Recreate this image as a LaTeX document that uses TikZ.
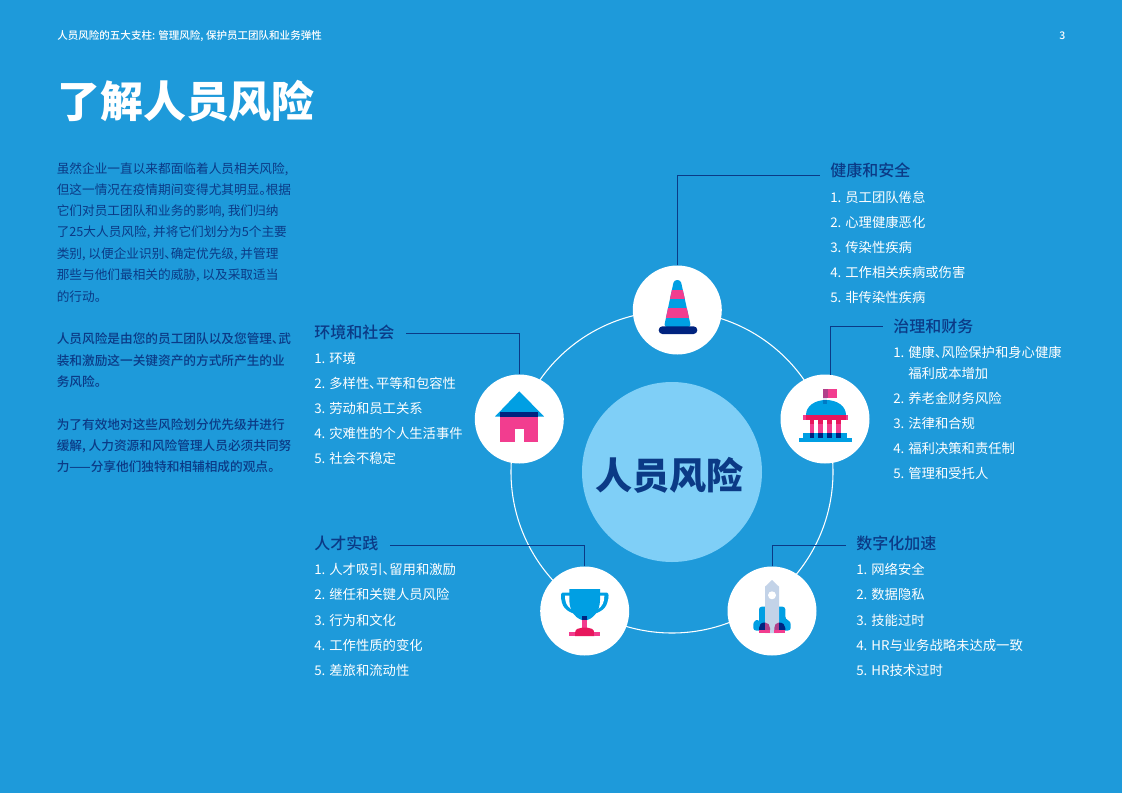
\documentclass[tikz,border=0pt]{standalone}
\usepackage{fontspec}
\setmainfont{Noto Sans CJK SC}[RawFeature=+palt]
\newfontfamily\medf{Noto Sans CJK SC}[UprightFont=* Medium,RawFeature=+palt]
\definecolor{bgblue}{HTML}{1E9ADA}
\definecolor{navy}{HTML}{0B3A86}
\definecolor{iconnavy}{HTML}{00237F}
\definecolor{lightdisc}{HTML}{7FCFF7}
\definecolor{iconblue}{HTML}{009FE3}
\definecolor{iconpink}{HTML}{F23D8F}
\definecolor{deeppink}{HTML}{E8175D}
\definecolor{purplepink}{HTML}{B0408A}
\definecolor{steel}{HTML}{C3D3E8}
\tikzset{
  x=0.75pt,y=-0.75pt,
  txt/.style={anchor=west,inner sep=0pt,text height=8.5pt,text depth=1.5pt},
  body/.style={txt,text=navy,font=\fontsize{9.5pt}{11pt}\selectfont},
  strong/.style={txt,text=navy,font=\fontsize{9.5pt}{11pt}\medf},
  item/.style={txt,text=white,text height=10pt,font=\fontsize{10pt}{12pt}\selectfont},
  head/.style={txt,text=navy,text height=12pt,text depth=2pt,font=\fontsize{12pt}{14pt}\medf},
  disc/.style={circle,fill=white,inner sep=0pt,minimum size=66.75pt},
  lead/.style={draw=navy,line width=0.7pt},
}
\begin{document}
\begin{tikzpicture}
\fill[bgblue] (0,0) rectangle (1122,793);
\useasboundingbox (0,0) rectangle (1122,793);

% header and title
\node[txt,text=white,font=\fontsize{7.9pt}{9pt}\medf] (hdr) at (57,35) {人员风险的五大支柱: 管理风险, 保护员工团队和业务弹性};
\node[txt,text=white,font=\fontsize{7.9pt}{9pt}\medf] (pg) at (1059,35) {3};
\node[txt,text=white,text height=27pt,text depth=2pt,font=\fontsize{32.2pt}{36pt}\selectfont\bfseries] (title) at (57,101) {了解人员风险};

% left column
\node[body] (b1) at (56.5,169) {虽然企业一直以来都面临着人员相关风险,};
\node[body] (b2) at (56.5,190) {但这一情况在疫情期间变得尤其明显。根据};
\node[body] (b3) at (56.5,211) {它们对员工团队和业务的影响, 我们归纳};
\node[body] (b4) at (56.5,232) {了25大人员风险, 并将它们划分为5个主要};
\node[body] (b5) at (56.5,254) {类别, 以便企业识别、确定优先级, 并管理};
\node[body] (b6) at (56.5,275) {那些与他们最相关的威胁, 以及采取适当};
\node[body] (b7) at (56.5,297) {的行动。};
\node[strong] (s1) at (56.5,339) {人员风险是由您的员工团队以及您管理、武};
\node[strong] (s2) at (56.5,361) {装和激励这一关键资产的方式所产生的业};
\node[strong] (s3) at (56.5,382) {务风险。};
\node[strong] (s4) at (56.5,425) {为了有效地对这些风险划分优先级并进行};
\node[strong] (s5) at (56.5,446) {缓解, 人力资源和风险管理人员必须共同努};
\node[strong] (s6) at (56.5,467) {力——分享他们独特和相辅相成的观点。};

% wheel
\node[circle,draw=white,line width=0.8pt,inner sep=0pt,minimum size=241.5pt] (ring) at (672,472) {};
\node[circle,fill=lightdisc,inner sep=0pt,minimum size=135pt] (hub) at (672,472) {};
\node[text=navy,inner sep=0pt,font=\fontsize{27.8pt}{32pt}\selectfont\bfseries] (hubt) at (669.5,475) {人员风险};
\node[disc] (cone) at (677.3,310) {};
\node[disc] (gov) at (825,419) {};
\node[disc] (rocket) at (772,611) {};
\node[disc] (cup) at (584.7,611) {};
\node[disc] (house) at (519.3,419) {};

% leader lines
\coordinate (l1) at (820,175);
\coordinate (l2) at (883,326);
\coordinate (l3) at (406,333);
\coordinate (l4) at (390,545);
\coordinate (l5) at (846,545);
\draw[lead] (cone.north) |- (l1);
\draw[lead] (gov.83) |- (l2);
\draw[lead] (house.north) |- (l3);
\draw[lead] (cup.north) |- (l4);
\draw[lead] (rocket.north) |- (l5);

% cone icon
\begin{scope}
\clip[rounded corners=2.2pt] (674,280) -- (680.6,280) -- (691,327) -- (664,327) -- cycle;
\fill[iconblue] (660,278) rectangle (695,328);
\fill[iconpink] (660,290) rectangle (695,299.3);
\fill[iconpink] (660,307.7) rectangle (695,318.3);
\end{scope}
\fill[iconnavy,rounded corners=2.8pt] (658.7,326.3) rectangle (697.3,334);

% government icon
\fill[iconblue] (806,415) .. controls (806,406) and (815,400) .. (826,400) .. controls (837,400) and (846,406) .. (846,415) -- cycle;
\fill[iconpink] (823.3,389) rectangle (837,398);
\fill[purplepink] (823.3,389) rectangle (828,398);
\fill[steel,opacity=.55] (823.3,398) rectangle (827.3,400);
\fill[iconblue!70!iconnavy] (823.3,400) rectangle (827.3,404);
\fill[iconpink] (803,415) rectangle (848,420);
\fill[deeppink] (806,415) rectangle (846,420);
\fill[iconpink] (809.7,420) rectangle (814.3,433);
\fill[iconpink] (818.3,420) rectangle (823,433);
\fill[iconpink] (827.3,420) rectangle (832,433);
\fill[iconpink] (836,420) rectangle (840.7,433);
\fill[deeppink] (809.7,420) rectangle (814.3,424);
\fill[deeppink] (818.3,420) rectangle (823,424);
\fill[deeppink] (827.3,420) rectangle (832,424);
\fill[deeppink] (836,420) rectangle (840.7,424);
\fill[iconblue] (803,432.7) rectangle (847.3,437.7);
\fill[iconblue] (799,437.7) rectangle (851.7,441.7);
\fill[iconnavy] (809.7,432.7) rectangle (814.3,438);
\fill[iconnavy] (818.3,432.7) rectangle (823,438);
\fill[iconnavy] (827.3,432.7) rectangle (832,438);
\fill[iconnavy] (836,432.7) rectangle (840.7,438);

% rocket icon
\fill[iconblue,rounded corners=2pt] (759,633) -- (759,606.7) -- (785.3,606.7) -- (785.3,619) -- (790.7,621.5) -- (790.7,630.5) -- (753.3,630.5) -- (753.3,621.5) -- (759,619) -- cycle;
\fill[steel] (772,580) -- (779,586.7) -- (779,633) -- (765,633) -- (765,586.7) -- cycle;
\fill[white] (772,595.3) circle[radius=4];
\fill[iconnavy] (759,630) -- (759,628) .. controls (759,625) and (761,622.5) .. (764.5,622.5) -- (765,622.5) -- (765,630) -- cycle;
\fill[purplepink] (765,630) -- (765,622.5) .. controls (768,622.5) and (770,625) .. (770,628) -- (770,630) -- cycle;
\fill[purplepink] (774.3,630) -- (774.3,628) .. controls (774.3,625) and (776,622.5) .. (779,622.5) -- (779,630) -- cycle;
\fill[iconnavy] (779,630) -- (779,622.5) .. controls (783,622.5) and (785.3,625) .. (785.3,628) -- (785.3,630) -- cycle;
\fill[iconpink] (759,630) rectangle (770,633);
\fill[iconpink] (774.3,630) rectangle (785.3,633);

% trophy icon
\fill[iconblue,rounded corners=1pt] (561,592.7) rectangle (608.3,600);
\fill[iconblue] (561,595) .. controls (561,607) and (566,611) .. (575,614) -- (594,614) .. controls (603,611) and (608.3,607) .. (608.3,595) -- cycle;
\fill[white] (565,595.5) .. controls (565,603) and (567,606) .. (571,609) -- (570,595.5) -- cycle;
\fill[white] (604.3,595.5) .. controls (604.3,603) and (602,606) .. (598.4,609) -- (599.4,595.5) -- cycle;
\fill[iconblue] (569.3,589) -- (600,589) -- (600,600) .. controls (600,612) and (592,620) .. (584.7,620.5) .. controls (577,620) and (569.3,612) .. (569.3,600) -- cycle;
\fill[iconpink] (582.3,620) rectangle (587,628);
\fill[iconnavy] (582.3,616) rectangle (587,620.3);
\fill[deeppink] (575,636) -- (575,633) .. controls (575,629) and (579,627.7) .. (582,627.7) -- (587.5,627.7) .. controls (590.5,627.7) and (594.3,629) .. (594.3,633) -- (594.3,636) -- cycle;
\fill[iconpink] (569,632) rectangle (575,636);
\fill[iconpink] (594.3,632) rectangle (600,636);

% house icon
\fill[iconblue] (519.3,391.3) -- (544,416.5) -- (495,416.5) -- cycle;
\fill[iconnavy] (500,411.7) rectangle (538,416.7);
\fill[iconpink] (500,416.7) rectangle (538,441.7);
\fill[white] (515,428.7) rectangle (524,441.7);

% health
\node[head] (h0) at (830,170) {健康和安全};
\node[item] (h1) at (830,197) {1. 员工团队倦怠};
\node[item] (h2) at (830,222) {2. 心理健康恶化};
\node[item] (h3) at (830,247) {3. 传染性疾病};
\node[item] (h4) at (830,272) {4. 工作相关疾病或伤害};
\node[item] (h5) at (830,297) {5. 非传染性疾病};
% governance
\node[head] (g0) at (893,326) {治理和财务};
\node[item] (g1) at (893,352) {1. 健康、风险保护和身心健康};
\node[item] (g1b) at (908,373) {福利成本增加};
\node[item] (g2) at (893,398) {2. 养老金财务风险};
\node[item] (g3) at (893,423) {3. 法律和合规};
\node[item] (g4) at (893,448) {4. 福利决策和责任制};
\node[item] (g5) at (893,473) {5. 管理和受托人};
% environment
\node[head] (e0) at (314,332) {环境和社会};
\node[item] (e1) at (314,358) {1. 环境};
\node[item] (e2) at (314,383) {2. 多样性、平等和包容性};
\node[item] (e3) at (314,408) {3. 劳动和员工关系};
\node[item] (e4) at (314,433) {4. 灾难性的个人生活事件};
\node[item] (e5) at (314,458) {5. 社会不稳定};
% talent
\node[head] (t0) at (314,543) {人才实践};
\node[item] (t1) at (314,569) {1. 人才吸引、留用和激励};
\node[item] (t2) at (314,594) {2. 继任和关键人员风险};
\node[item] (t3) at (314,620) {3. 行为和文化};
\node[item] (t4) at (314,645) {4. 工作性质的变化};
\node[item] (t5) at (314,670) {5. 差旅和流动性};
% digital
\node[head] (d0) at (856,543) {数字化加速};
\node[item] (d1) at (856,569) {1. 网络安全};
\node[item] (d2) at (856,594) {2. 数据隐私};
\node[item] (d3) at (856,620) {3. 技能过时};
\node[item] (d4) at (856,645) {4. HR与业务战略未达成一致};
\node[item] (d5) at (856,670) {5. HR技术过时};
\end{tikzpicture}
\end{document}
